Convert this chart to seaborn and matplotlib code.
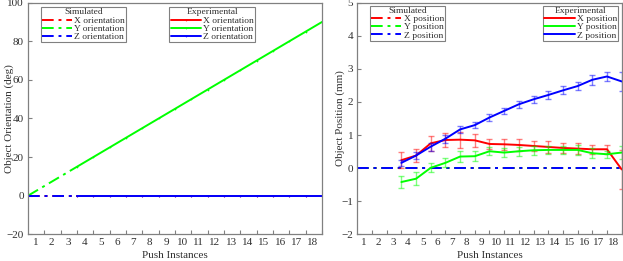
import numpy as np
import matplotlib
matplotlib.use("Agg")
import matplotlib.pyplot as plt
import seaborn as sns

# ---------------- data ----------------
push_labels = [str(i) for i in range(1, 19)]

# left panel: orientation (deg)
sim_x_left = [0, 1, 2, 3]
sim_ori_x = [0, 0, 0, 0]
sim_ori_y = [0, 5, 10, 15]
sim_ori_z = [0, 0, 0, 0]

exp_x = [3, 4, 5, 6, 7, 8, 9, 10, 11, 12, 13, 14, 15, 16, 17, 18]
exp_ori_x = [0] * 16
exp_ori_y = [15, 20, 25, 30, 35, 40, 45, 50, 55, 60, 65, 70, 75, 80, 85, 90]
exp_ori_z = [0] * 16

# right panel: position (mm)
sim_x_right = [0, 18]
sim_pos_x = [0, 0]
sim_pos_y = [0, 0]
sim_pos_z = [0, 0]

exp_pos_x = [0.24, 0.38, 0.75, 0.85, 0.86, 0.84, 0.73, 0.72, 0.70, 0.67, 0.64, 0.61, 0.59, 0.57, 0.57, -0.04]
exp_pos_x_err = [0.25, 0.20, 0.23, 0.21, 0.24, 0.20, 0.14, 0.17, 0.18, 0.15, 0.17, 0.15, 0.17, 0.13, 0.13, 0.60]
exp_pos_y = [-0.42, -0.32, 0.01, 0.16, 0.35, 0.36, 0.51, 0.47, 0.51, 0.54, 0.55, 0.55, 0.55, 0.45, 0.42, 0.47]
exp_pos_y_err = [0.19, 0.19, 0.14, 0.14, 0.16, 0.15, 0.12, 0.13, 0.14, 0.13, 0.13, 0.13, 0.16, 0.15, 0.10, 0.20]
exp_pos_z = [0.16, 0.38, 0.65, 0.89, 1.17, 1.30, 1.53, 1.73, 1.93, 2.08, 2.21, 2.35, 2.48, 2.67, 2.77, 2.62]
exp_pos_z_err = [0.10, 0.10, 0.12, 0.12, 0.11, 0.10, 0.10, 0.10, 0.10, 0.11, 0.11, 0.12, 0.12, 0.15, 0.15, 0.30]

RED, GREEN, BLUE = "#ff0000", "#00ff00", "#0000ff"
GRAY = "#808080"
TXT = "#303030"

# ---------------- style ----------------
sns.set_theme(style="white")
plt.rcParams["font.family"] = ["Liberation Serif", "DejaVu Serif"]
plt.rcParams["text.color"] = TXT
plt.rcParams["axes.labelcolor"] = TXT
plt.rcParams["xtick.color"] = TXT
plt.rcParams["ytick.color"] = TXT

fig = plt.figure(figsize=(6.23, 2.61), dpi=100)
axL = fig.add_axes([0.0449, 0.1023, 0.4719, 0.8874])
axR = fig.add_axes([0.5735, 0.1023, 0.4244, 0.8874])

LW = 1.4
DASHDOT = (0, (6, 2.5, 1.5, 2.5))


def line(ax, x, y, color, ls, **kw):
    sns.lineplot(x=x, y=y, ax=ax, color=color, linestyle=ls, lw=LW,
                 estimator=None, sort=False, **kw)
    return ax.lines[-1]


# ---------- left panel ----------
hs_l = [
    line(axL, sim_x_left, sim_ori_x, RED, DASHDOT),
    line(axL, sim_x_left, sim_ori_y, GREEN, DASHDOT),
    line(axL, sim_x_left, sim_ori_z, BLUE, DASHDOT),
]
he_l = [
    line(axL, exp_x, exp_ori_x, RED, "-", marker=".", markersize=2.5, markeredgewidth=0),
    line(axL, exp_x, exp_ori_y, GREEN, "-", marker=".", markersize=2.5, markeredgewidth=0),
    line(axL, exp_x, exp_ori_z, BLUE, "-", marker=".", markersize=2.5, markeredgewidth=0),
]
axL.set_ylim(-20, 100)
axL.set_yticks([-20, 0, 20, 40, 60, 80, 100])
axL.set_ylabel("Object Orientation (deg)", fontsize=8)

# ---------- right panel ----------
hs_r = [
    line(axR, sim_x_right, sim_pos_x, RED, DASHDOT),
    line(axR, sim_x_right, sim_pos_y, GREEN, DASHDOT),
    line(axR, sim_x_right, sim_pos_z, BLUE, DASHDOT),
]
he_r = []
for vals, errs, c in [(exp_pos_x, exp_pos_x_err, RED),
                      (exp_pos_y, exp_pos_y_err, GREEN),
                      (exp_pos_z, exp_pos_z_err, BLUE)]:
    axR.errorbar(exp_x, vals, yerr=errs, fmt="none", ecolor=c, alpha=0.5,
                 elinewidth=1.0, capsize=2.3, capthick=1.0)
    he_r.append(line(axR, exp_x, vals, c, "-"))
axR.set_ylim(-2, 5)
axR.set_yticks([-2, -1, 0, 1, 2, 3, 4, 5])
axR.set_ylabel("Object Position (mm)", fontsize=8)

# ---------- common axes formatting ----------
for ax in (axL, axR):
    ax.set_xlim(0, 18)
    ax.set_xticks(np.arange(1, 19))
    ax.set_xticklabels([""] * 18)
    ax.set_xticks(np.arange(1, 19) - 0.55, labels=push_labels, minor=True)
    ax.tick_params(axis="x", which="major", direction="in", length=3,
                   width=0.8, color=GRAY, bottom=True, top=False)
    ax.tick_params(axis="x", which="minor", length=0, pad=3, labelsize=8)
    ax.tick_params(axis="y", which="major", direction="in", length=3,
                   width=0.8, color=GRAY, left=True, right=False,
                   labelsize=8, pad=3)
    ax.set_xlabel("Push Instances", fontsize=8)
    ax.xaxis.set_label_coords(0.5, -0.072)
    for sp in ax.spines.values():
        sp.set_color(GRAY)
        sp.set_linewidth(0.9)
        sp.set_visible(True)
axL.yaxis.set_label_coords(-0.049, 0.5)
axR.yaxis.set_label_coords(-0.045, 0.5)

legkw = dict(fontsize=6.8, title_fontsize=6.8, handlelength=3.2,
             handletextpad=0.25, labelspacing=-0.06, borderpad=0.12,
             fancybox=False, edgecolor=GRAY, framealpha=1, borderaxespad=0)


def legends(ax, hs, he, names, pos_s, pos_e, loc_e):
    l1 = ax.legend(hs, names, title="Simulated", loc="upper left",
                   bbox_to_anchor=pos_s, **legkw)
    l1.get_frame().set_linewidth(0.8)
    ax.add_artist(l1)
    l2 = ax.legend(he, names, title="Experimental", loc=loc_e,
                   bbox_to_anchor=pos_e, **legkw)
    l2.get_frame().set_linewidth(0.8)
    for lg in (l1, l2):
        lg._legend_box.sep = 0
        lg.get_title().set_color(TXT)


legends(axL, hs_l, he_l, ["X orientation", "Y orientation", "Z orientation"],
        (0.043, 0.980), (0.481, 0.980), "upper left")
legends(axR, hs_r, he_r, ["X position", "Y position", "Z position"],
        (0.048, 0.987), (0.987, 0.987), "upper right")

fig.savefig("out.png", dpi=100)
